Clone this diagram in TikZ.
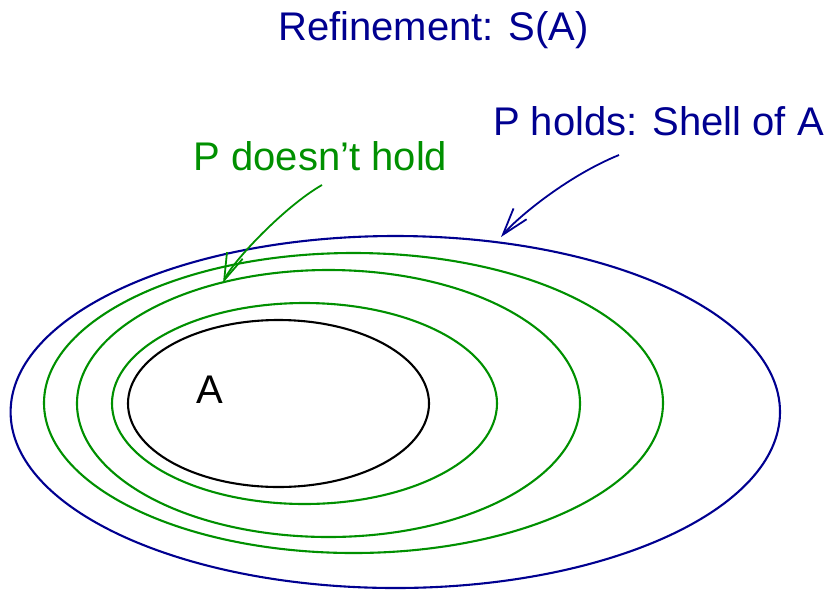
\documentclass[tikz,border=0pt]{standalone}
\usepackage{fontspec}
\setmainfont{Liberation Sans}
\usetikzlibrary{arrows.meta,shapes.geometric}
\definecolor{navy}{RGB}{0,0,144}
\definecolor{fgreen}{RGB}{0,144,0}
\begin{document}
\begin{tikzpicture}[x=1pt,y=-1pt,
  ring/.style={draw, ellipse, inner sep=0pt, outer sep=0pt, line width=2.1pt},
  lbl/.style={font=\fontsize{40}{48}\selectfont, inner sep=0pt, anchor=base west},
  pointer/.style={line width=1.8pt, -{Straight Barb[length=27pt,width=17pt]}}]
\useasboundingbox (0,0) rectangle (824,590);
% ellipses
\node[ring, draw=navy, minimum width=769.4pt, minimum height=352pt] (shell) at (395.3,412) {};
\node[ring, draw=fgreen, minimum width=619pt, minimum height=300pt] (g1) at (353.5,403) {};
\node[ring, draw=fgreen, minimum width=503pt, minimum height=267pt] (g2) at (328.5,403.5) {};
\node[ring, draw=fgreen, minimum width=385pt, minimum height=201pt] (g3) at (304.5,403.5) {};
\node[ring, draw=black, minimum width=301pt, minimum height=167pt] (setA) at (278.5,403.5) {};
% labels
\node[lbl, text=navy] (title) at (278,40) {Refinement: S(A)};
\node[lbl, text=navy] (holds) at (493,135) {P holds: Shell of A};
\node[lbl, text=fgreen] (nothold) at (193.5,170) {P doesn't hold};
\node[lbl, text=black] (Alab) at (196.5,403) {A};
% arrows
\coordinate (gs) at (322,185);
\coordinate (gt) at (223,283);
\coordinate (bs) at (619,155);
\coordinate (bt) at (501,237);
\draw[pointer, draw=fgreen] (gs) .. controls (285,206) and (232,262) .. (gt);
\draw[pointer, draw=navy] (bs) .. controls (565,177) and (515,220) .. (bt);
\end{tikzpicture}
\end{document}
